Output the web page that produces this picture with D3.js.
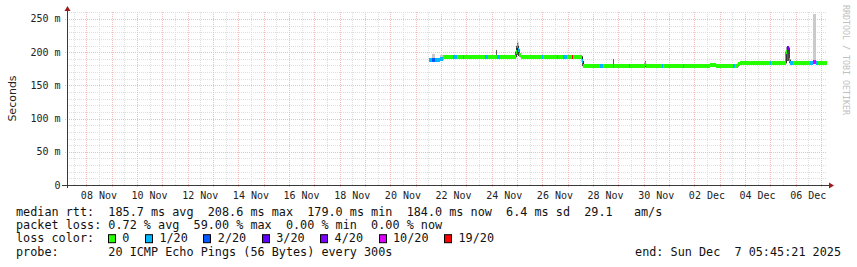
<!DOCTYPE html>
<html>
<head>
<meta charset="utf-8">
<script src="https://cdn.jsdelivr.net/npm/d3@7"></script>
<style>
  body { margin: 0; background: #fff; }
  svg { display: block; }
</style>
</head>
<body>
<div id="viz"></div>
<script>
const width = 857;
const height = 267;
const plot = {left: 67, right: 827, top: 12, bottom: 185};

// time window of the graph (UTC)
const startTime = '2025-11-07T05:45:21Z';
const endTime = '2025-12-07T05:45:21Z';

// samples: each one holds until the next sample starts
const times = [
  '2025-11-21T13:00', '2025-11-21T16:00', '2025-11-21T18:00', '2025-11-21T23:00',
  '2025-11-22T02:00', '2025-11-22T05:00', '2025-11-22T11:00', '2025-11-22T15:00',
  '2025-11-22T21:00', '2025-11-22T22:00', '2025-11-23T18:00', '2025-11-23T21:00',
  '2025-11-24T04:00', '2025-11-24T05:00', '2025-11-24T08:00', '2025-11-24T23:00',
  '2025-11-25T00:00', '2025-11-25T01:00', '2025-11-25T02:00', '2025-11-25T04:00',
  '2025-11-26T00:00', '2025-11-26T01:00', '2025-11-26T14:00', '2025-11-26T15:00',
  '2025-11-26T20:00', '2025-11-26T23:00', '2025-11-27T04:00', '2025-11-27T05:00',
  '2025-11-27T14:00', '2025-11-27T15:00', '2025-11-28T07:00', '2025-11-28T09:30',
  '2025-11-28T19:00', '2025-11-28T20:00', '2025-11-29T10:00', '2025-11-29T11:00',
  '2025-11-30T01:00', '2025-11-30T02:00', '2025-11-30T17:30', '2025-11-30T18:30',
  '2025-12-01T13:30', '2025-12-01T14:30', '2025-12-02T15:00', '2025-12-02T21:00',
  '2025-12-03T13:00', '2025-12-03T15:00', '2025-12-03T17:30', '2025-12-03T19:30',
  '2025-12-05T00:00', '2025-12-05T01:00', '2025-12-05T15:00', '2025-12-05T16:00',
  '2025-12-05T17:00', '2025-12-05T18:00', '2025-12-05T19:00', '2025-12-05T22:00',
  '2025-12-06T14:00', '2025-12-06T16:30', '2025-12-06T19:30', '2025-12-06T21:00'
];
// median rtt in ms
const median = [
  188.5, 188, 188.5, 190, 192, 193, 193, 193,
  193, 193, 193, 193, 193, 193, 193, 200,
  208.6, 204, 195, 193, 193, 193, 193, 193,
  193, 193, 193, 193, 186, 179, 179, 179,
  179, 179, 179, 179, 182, 179, 179, 179,
  179, 179, 180, 179, 179, 179, 182, 184,
  184, 184, 200, 207, 206, 188, 184, 184,
  184, 185, 184, 184
];
// lost pings out of 20
const loss = [
  1, 2, 1, 1, 0, 0, 1, 0,
  1, 0, 1, 0, 0, 1, 0, 0,
  1, 1, 0, 0, 1, 0, 1, 0,
  1, 0, 19, 0, 1, 0, 1, 0,
  1, 0, 1, 0, 0, 0, 1, 0,
  1, 0, 0, 0, 1, 0, 0, 0,
  1, 0, 0, 3, 4, 1, 1, 0,
  1, 10, 1, 0
];
// smoke: lowest ping, top of dense smoke, top of sparse smoke (ms)
const smokeLo = [
  186.5, 186, 186.5, 188, 190, 191, 191, 191,
  191, 191, 191, 191, 191, 191, 191, 192,
  195, 194, 192, 191, 191, 191, 191, 191,
  191, 191, 191, 191, 179, 177, 177, 177,
  177, 177, 177, 177, 178, 177, 177, 177,
  177, 177, 178, 177, 177, 177, 180, 182,
  182, 182, 184, 186, 186, 184, 182, 182,
  182, 183, 182, 182
];
const smokeDense = [
  190.5, 190, 190.5, 193, 194, 195, 195, 195,
  195, 195, 195, 195, 203, 195, 195, 206,
  214, 210, 198, 195, 195, 195, 195, 195,
  195, 195, 195, 195, 193, 181, 181, 181,
  190, 181, 181, 181, 186, 181, 181, 181,
  181, 181, 182, 181, 181, 181, 184, 186,
  187, 186, 202, 209, 208, 190, 186, 186,
  186, 187, 186, 186
];
const smokeSparse = [
  190.5, 197, 190.5, 196, 194, 195, 195, 195,
  195, 195, 195, 195, 203, 195, 195, 210,
  221, 215, 198, 195, 195, 195, 195, 195,
  195, 195, 195, 195, 193, 181, 181, 181,
  190, 181, 181, 181, 186, 181, 181, 181,
  181, 181, 182, 181, 181, 181, 184, 186,
  187, 186, 202, 209, 208, 190, 186, 186,
  186, 258, 186, 186
];

const yTicks = [0, 50, 100, 150, 200, 250];
const lossLevels = [0, 1, 2, 3, 4, 10, 19];
const lossLabels = ['0', '1/20', '2/20', '3/20', '4/20', '10/20', '19/20'];
const lossColors = ['#26ff00', '#00b8ff', '#0059ff', '#5e00ff', '#7e00ff', '#dd00ff', '#ff0000'];

const rttStats = [['185.7', 'avg'], ['208.6', 'max'], ['179.0', 'min'], ['184.0', 'now']];
const rttSd = '6.4';
const rttAms = '29.1';
const lossStats = [['0.72', 'avg'], ['59.00', 'max'], ['0.00', 'min'], ['0.00', 'now']];
const probeText = '20 ICMP Echo Pings (56 Bytes) every 300s';
const endText = 'end: Sun Dec  7 05:45:21 2025';

const parse = s => new Date(s.endsWith('Z') ? s : s + 'Z');
const samples = times.map((t, i) => ({
  t0: parse(t),
  t1: i < times.length - 1 ? parse(times[i + 1]) : parse(endTime),
  median: median[i], loss: loss[i],
  lo: smokeLo[i], dense: smokeDense[i], sparse: smokeSparse[i]
}));

const lossColor = n => {
  let c = lossColors[0];
  lossLevels.forEach((lv, i) => { if (n >= lv) c = lossColors[i]; });
  return c;
};

const x = d3.scaleUtc()
  .domain([parse(startTime), parse(endTime)])
  .range([plot.left, plot.right]);
const y = d3.scaleLinear()
  .domain([0, 260.5])
  .range([plot.bottom, plot.top]);

const svg = d3.select('#viz').append('svg')
  .attr('width', width).attr('height', height)
  .attr('viewBox', [0, 0, width, height])
  .style('background', '#fff');

const mono = '"DejaVu Sans Mono", monospace';

// grid: minor every 12h / 10 ms, major every day / 50 ms
const grid = svg.append('g').attr('shape-rendering', 'crispEdges');
const minorX = d3.utcHour.every(12).range(x.domain()[0], x.domain()[1]).filter(d => d.getUTCHours() === 12);
const majorX = d3.utcDay.range(x.domain()[0], x.domain()[1]);
const minorY = d3.range(10, 261, 10).filter(v => v % 50 !== 0);

grid.selectAll('.vminor').data(minorX).join('line')
  .attr('x1', d => Math.round(x(d)) + 0.5).attr('x2', d => Math.round(x(d)) + 0.5)
  .attr('y1', plot.top).attr('y2', plot.bottom)
  .attr('stroke', '#dedede').attr('stroke-dasharray', '1,1');
grid.selectAll('.hminor').data(minorY).join('line')
  .attr('x1', plot.left).attr('x2', plot.right)
  .attr('y1', d => Math.round(y(d)) + 0.5).attr('y2', d => Math.round(y(d)) + 0.5)
  .attr('stroke', '#dedede').attr('stroke-dasharray', '1,1');
grid.selectAll('.vmajor').data(majorX).join('line')
  .attr('x1', d => Math.round(x(d)) + 0.5).attr('x2', d => Math.round(x(d)) + 0.5)
  .attr('y1', plot.top).attr('y2', plot.bottom + 2)
  .attr('stroke', '#f0bcbc').attr('stroke-dasharray', '1,1');
grid.selectAll('.hmajor').data(yTicks.filter(v => v > 0)).join('line')
  .attr('x1', plot.left - 2).attr('x2', plot.right)
  .attr('y1', d => Math.round(y(d)) + 0.5).attr('y2', d => Math.round(y(d)) + 0.5)
  .attr('stroke', '#f0bcbc').attr('stroke-dasharray', '1,1');

// smoke
const smoke = svg.append('g').attr('shape-rendering', 'crispEdges');
smoke.selectAll('.sparse').data(samples).join('rect')
  .attr('x', d => x(d.t0)).attr('width', d => Math.max(1, x(d.t1) - x(d.t0)))
  .attr('y', d => y(d.sparse)).attr('height', d => y(d.lo) - y(d.sparse))
  .attr('fill', '#cacaca');
smoke.selectAll('.dense').data(samples).join('rect')
  .attr('x', d => x(d.t0)).attr('width', d => Math.max(1, x(d.t1) - x(d.t0)))
  .attr('y', d => y(d.dense)).attr('height', d => y(d.lo) - y(d.dense))
  .attr('fill', '#5e5e5e');

// median: dark step line, then loss coloured bands on top
const stepPts = samples.map(d => [d.t0, d.median]);
stepPts.push([samples[samples.length - 1].t1, median[median.length - 1]]);
svg.append('path')
  .attr('d', d3.line().x(d => x(d[0])).y(d => y(d[1])).curve(d3.curveStepAfter)(stepPts))
  .attr('fill', 'none').attr('stroke', '#202020').attr('stroke-width', 1.2);
svg.append('g').attr('shape-rendering', 'crispEdges')
  .selectAll('rect').data(samples).join('rect')
  .attr('x', d => x(d.t0)).attr('width', d => Math.max(1, x(d.t1) - x(d.t0)))
  .attr('y', d => y(d.median) - 2).attr('height', 4)
  .attr('fill', d => lossColor(d.loss));

// axes
const axisColor = '#3a3a3a';
svg.append('line')
  .attr('x1', plot.left - 5).attr('x2', plot.right + 2)
  .attr('y1', plot.bottom + 0.5).attr('y2', plot.bottom + 0.5)
  .attr('stroke', axisColor).attr('shape-rendering', 'crispEdges');
svg.append('line')
  .attr('x1', plot.left + 0.5).attr('x2', plot.left + 0.5)
  .attr('y1', plot.bottom + 3).attr('y2', plot.top - 2)
  .attr('stroke', axisColor).attr('shape-rendering', 'crispEdges');
svg.append('path')
  .attr('d', `M${plot.left + 0.5},${plot.top - 6}l-3,5h6z`)
  .attr('fill', '#9b1b1b');
svg.append('path')
  .attr('d', `M${plot.right + 7},${plot.bottom + 0.5}l-5,-3v6z`)
  .attr('fill', '#9b1b1b');

// y tick labels
svg.append('g').selectAll('text').data(yTicks).join('text')
  .attr('x', 60.5).attr('y', d => y(d) + 3.5)
  .attr('text-anchor', 'end')
  .style('font-family', mono).style('font-size', '10px').attr('fill', '#222')
  .style('white-space', 'pre')
  .text(d => d === 0 ? '0' : d + ' m');

// x tick labels at noon every second day
const xLabels = d3.utcDay.range(x.domain()[0], x.domain()[1])
  .filter(d => d.getUTCDate() % 2 === 0)
  .map(d => d3.utcHour.offset(d, 12))
  .filter(d => x(d) < plot.right);
svg.append('g').selectAll('text').data(xLabels).join('text')
  .attr('x', d => x(d)).attr('y', 198.5)
  .attr('text-anchor', 'middle')
  .style('font-family', mono).style('font-size', '10px').attr('fill', '#222')
  .text(d3.utcFormat('%d %b'));

// y axis title
svg.append('text')
  .attr('transform', 'translate(15.5,98.5) rotate(-90)')
  .attr('text-anchor', 'middle')
  .style('font-family', '"DejaVu Sans", sans-serif').style('font-size', '11px').attr('fill', '#222')
  .text('Seconds');

// watermark
svg.append('text')
  .attr('transform', 'translate(843,5) rotate(90)')
  .style('font-family', mono).style('font-size', '8.3px').attr('fill', '#c0c0c0')
  .text('RRDTOOL / TOBI OETIKER');

// legend
const charW = 7.1;
const legendX = 16;
const legendFont = '11.8px';
const lineY = [215.5, 228.8, 242.2, 255.5];
const legendText = (str, lx, ly) => svg.append('text')
  .attr('x', lx).attr('y', ly)
  .style('font-family', mono).style('font-size', legendFont).attr('fill', '#111')
  .style('white-space', 'pre')
  .text(str);

legendText('median rtt:  ' + rttStats.map(s => `${s[0]} ms ${s[1]}`).join('  ')
  + `  ${rttSd} ms sd  ${rttAms}   am/s`, legendX, lineY[0]);
legendText('packet loss: ' + lossStats.map(s => `${s[0]} % ${s[1]}`).join('  '), legendX, lineY[1]);
legendText('loss color:', legendX, lineY[2]);
legendText('probe:       ' + probeText, legendX, lineY[3]);
svg.append('text')
  .attr('x', 841).attr('y', lineY[3]).attr('text-anchor', 'end')
  .style('font-family', mono).style('font-size', legendFont).attr('fill', '#111')
  .style('white-space', 'pre')
  .text(endText);

let bx = legendX + 13 * charW - 0.5;
lossLabels.forEach((lab, i) => {
  svg.append('rect')
    .attr('x', Math.round(bx) + 0.5).attr('y', lineY[2] - 7.5)
    .attr('width', 7).attr('height', 8)
    .attr('fill', lossColors[i]).attr('stroke', '#000').attr('stroke-width', 1);
  const tx = bx + 14.5;
  legendText(lab, tx, lineY[2]);
  bx = tx + lab.length * charW + 15.5;
});
</script>
</body>
</html>
